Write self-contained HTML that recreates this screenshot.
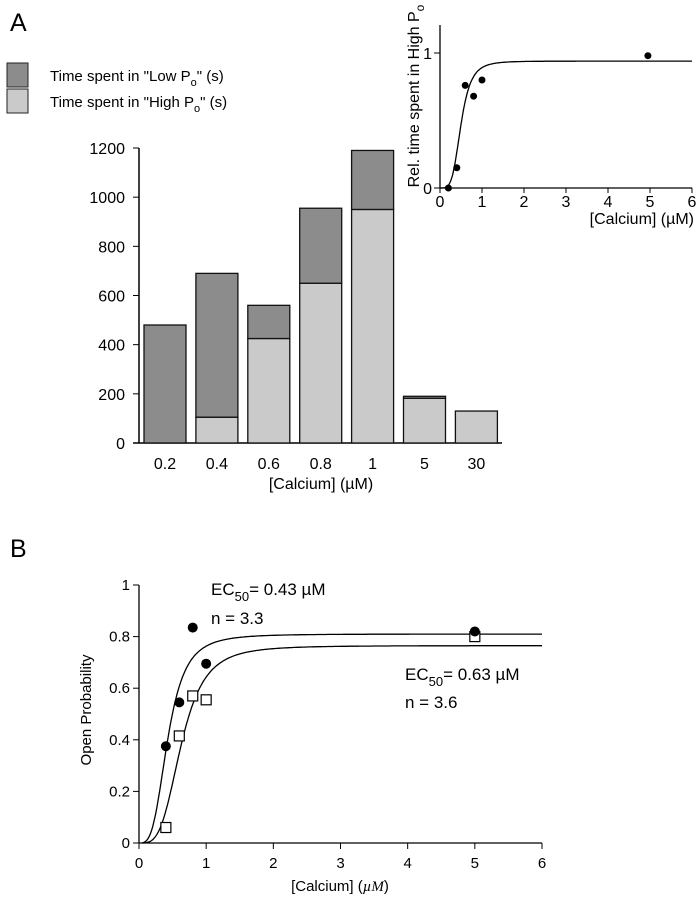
<!DOCTYPE html>
<html><head><meta charset="utf-8"><style>
body{margin:0;background:#fff;}
svg{display:block;font-family:"Liberation Sans",sans-serif;}
</style></head><body>
<svg id="fig" width="699" height="900" xmlns="http://www.w3.org/2000/svg">
<text x="10" y="31" font-size="25">A</text>
<text x="10" y="557" font-size="25">B</text>
<g>
<rect x="7" y="63" width="21" height="24" fill="#8c8c8c" stroke="#222"/>
<text x="50" y="81" font-size="15">Time spent in "Low P<tspan font-size="11" dy="5">o</tspan><tspan dy="-5">" (s)</tspan></text>
<rect x="7" y="89" width="21" height="24" fill="#cacaca" stroke="#222"/>
<text x="50" y="107" font-size="15">Time spent in "High P<tspan font-size="11" dy="5">o</tspan><tspan dy="-5">" (s)</tspan></text>
</g>
<g id="bars"></g>
<g id="inset"></g>
<g id="pb"></g>
</svg>
<script>
const barCats=["0.2","0.4","0.6","0.8","1","5","30"];
const highVals=[0,105,425,650,950,182,130];
const lowVals=[480,585,135,305,240,8,0];
const barTicks=[0,200,400,600,800,1000,1200];
const insetX=[0.2,0.4,0.6,0.8,1,4.95];
const insetY=[0,0.15,0.76,0.68,0.8,0.98];
const insetFit=[0.94,0.5,4.2];
const insetTicks=[0,1,2,3,4,5,6];
const circX=[0.4,0.6,0.8,1,5];
const circY=[0.375,0.545,0.835,0.695,0.82];
const sqX=[0.4,0.6,0.8,1,5];
const sqY=[0.06,0.415,0.57,0.555,0.80];
const fit1=[0.81,0.43,3.3];
const fit2=[0.765,0.63,3.6];
const pbXTicks=[0,1,2,3,4,5,6];
const pbYTicks=[0,0.2,0.4,0.6,0.8,1];
const NS="http://www.w3.org/2000/svg";
function mk(p,t,a,txt){const e=document.createElementNS(NS,t);for(const k in a)e.setAttribute(k,a[k]);if(txt!==undefined)e.textContent=txt;p.appendChild(e);return e;}
function hill(f,x){return f[0]*Math.pow(x,f[2])/(Math.pow(x,f[2])+Math.pow(f[1],f[2]));}
// bar chart
(function(){const g=document.getElementById('bars');
const y=v=>443-v*(295/1200);const x0=144,step=51.9,bw=42;
let e=mk(g,'line',{x1:139,y1:148,x2:139,y2:443,stroke:'#000','stroke-width':1.5});

e=mk(g,'line',{x1:133,y1:443,x2:502,y2:443,stroke:'#000','stroke-width':1.5});

barTicks.forEach(t=>{mk(g,'line',{x1:133,y1:y(t),x2:139,y2:y(t),stroke:'#000'});
e=mk(g,'text',{x:125,y:y(t)+6,'font-size':16,'text-anchor':'end'},t);
});
barCats.forEach((c,i)=>{const bx=x0+i*step,h=highVals[i],l=lowVals[i];
if(h>0){e=mk(g,'rect',{x:bx,y:y(h),width:bw,height:443-y(h),fill:'#cacaca',stroke:'#111','stroke-width':1.3});
}
if(l>0){e=mk(g,'rect',{x:bx,y:y(h+l),width:bw,height:y(h)-y(h+l),fill:'#8c8c8c',stroke:'#111','stroke-width':1.3});
}
e=mk(g,'text',{x:bx+bw/2,y:469,'font-size':16,'text-anchor':'middle'},c);
});
e=mk(g,'text',{x:321,y:489,'font-size':16,'text-anchor':'middle'},'[Calcium] (µM)');
})();
// inset
(function(){const g=document.getElementById('inset');
const x=v=>440+v*(252/6),y=v=>188-v*135;
let e=mk(g,'line',{x1:440,y1:25,x2:440,y2:188,stroke:'#000','stroke-width':1.3});

e=mk(g,'line',{x1:440,y1:188,x2:692,y2:188,stroke:'#000','stroke-width':1.3});

insetTicks.forEach(t=>{mk(g,'line',{x1:x(t),y1:188,x2:x(t),y2:193,stroke:'#000'});
e=mk(g,'text',{x:x(t),y:207,'font-size':16,'text-anchor':'middle'},t);
});
[0,1].forEach(t=>{mk(g,'line',{x1:434,y1:y(t),x2:440,y2:y(t),stroke:'#000'});
e=mk(g,'text',{x:432,y:y(t)+6,'font-size':16,'text-anchor':'end'},t);
});
let d='';for(let i=0;i<=300;i++){const v=0.02+i*(5.98/300);d+=(i?'L':'M')+x(v).toFixed(1)+','+y(hill(insetFit,v)).toFixed(1);}
e=mk(g,'path',{d:d,fill:'none',stroke:'#000','stroke-width':1.3});

insetX.forEach((v,i)=>{e=mk(g,'circle',{cx:x(v),cy:y(insetY[i]),r:3.5,fill:'#000'});
});
e=mk(g,'text',{x:694,y:224,'font-size':16,'text-anchor':'end'},'[Calcium] (µM)');

e=mk(g,'text',{x:0,y:0,'font-size':16,'text-anchor':'middle',transform:'translate(419,96) rotate(-90)'});
e.innerHTML='Rel. time spent in High P<tspan font-size="12" dy="5">o</tspan>';
})();
// panel B
(function(){const g=document.getElementById('pb');
const x=v=>139+v*(403/6),y=v=>843-v*258;
let e=mk(g,'line',{x1:139,y1:585,x2:139,y2:843,stroke:'#000','stroke-width':1.3});

e=mk(g,'line',{x1:139,y1:843,x2:542,y2:843,stroke:'#000','stroke-width':1.3});

pbXTicks.forEach(t=>{mk(g,'line',{x1:x(t),y1:843,x2:x(t),y2:849,stroke:'#000'});
e=mk(g,'text',{x:x(t),y:868,'font-size':15,'text-anchor':'middle'},t);
});
pbYTicks.forEach(t=>{mk(g,'line',{x1:133,y1:y(t),x2:139,y2:y(t),stroke:'#000'});
e=mk(g,'text',{x:130,y:y(t)+5,'font-size':15,'text-anchor':'end'},t);
});
[fit1,fit2].forEach((f,k)=>{let d='';for(let i=0;i<=300;i++){const v=0.05+i*(5.95/300);d+=(i?'L':'M')+x(v).toFixed(1)+','+y(hill(f,v)).toFixed(1);}
e=mk(g,'path',{d:d,fill:'none',stroke:'#000','stroke-width':1.3});
});
sqX.forEach((v,i)=>{e=mk(g,'rect',{x:x(v)-5,y:y(sqY[i])-5,width:10,height:10,fill:'#fff',stroke:'#000','stroke-width':1.2});
});
circX.forEach((v,i)=>{e=mk(g,'circle',{cx:x(v),cy:y(circY[i]),r:5,fill:'#000'});
});
e=mk(g,'text',{x:340,y:891,'font-size':15,'text-anchor':'middle'});
e.innerHTML='[Calcium] (<tspan font-style="italic" font-family="Liberation Serif">µM</tspan>)';

e=mk(g,'text',{x:0,y:0,'font-size':15,'text-anchor':'middle',transform:'translate(91,710) rotate(-90)'},'Open Probability');

e=mk(g,'text',{x:211,y:595,'font-size':17});e.innerHTML='EC<tspan font-size="13" dy="6">50</tspan><tspan dy="-6">= 0.43 µM</tspan>';

e=mk(g,'text',{x:211,y:624,'font-size':17},'n = 3.3');

e=mk(g,'text',{x:405,y:680,'font-size':17});e.innerHTML='EC<tspan font-size="13" dy="6">50</tspan><tspan dy="-6">= 0.63 µM</tspan>';

e=mk(g,'text',{x:405,y:708,'font-size':17},'n = 3.6');
})();
</script>
</body></html>
